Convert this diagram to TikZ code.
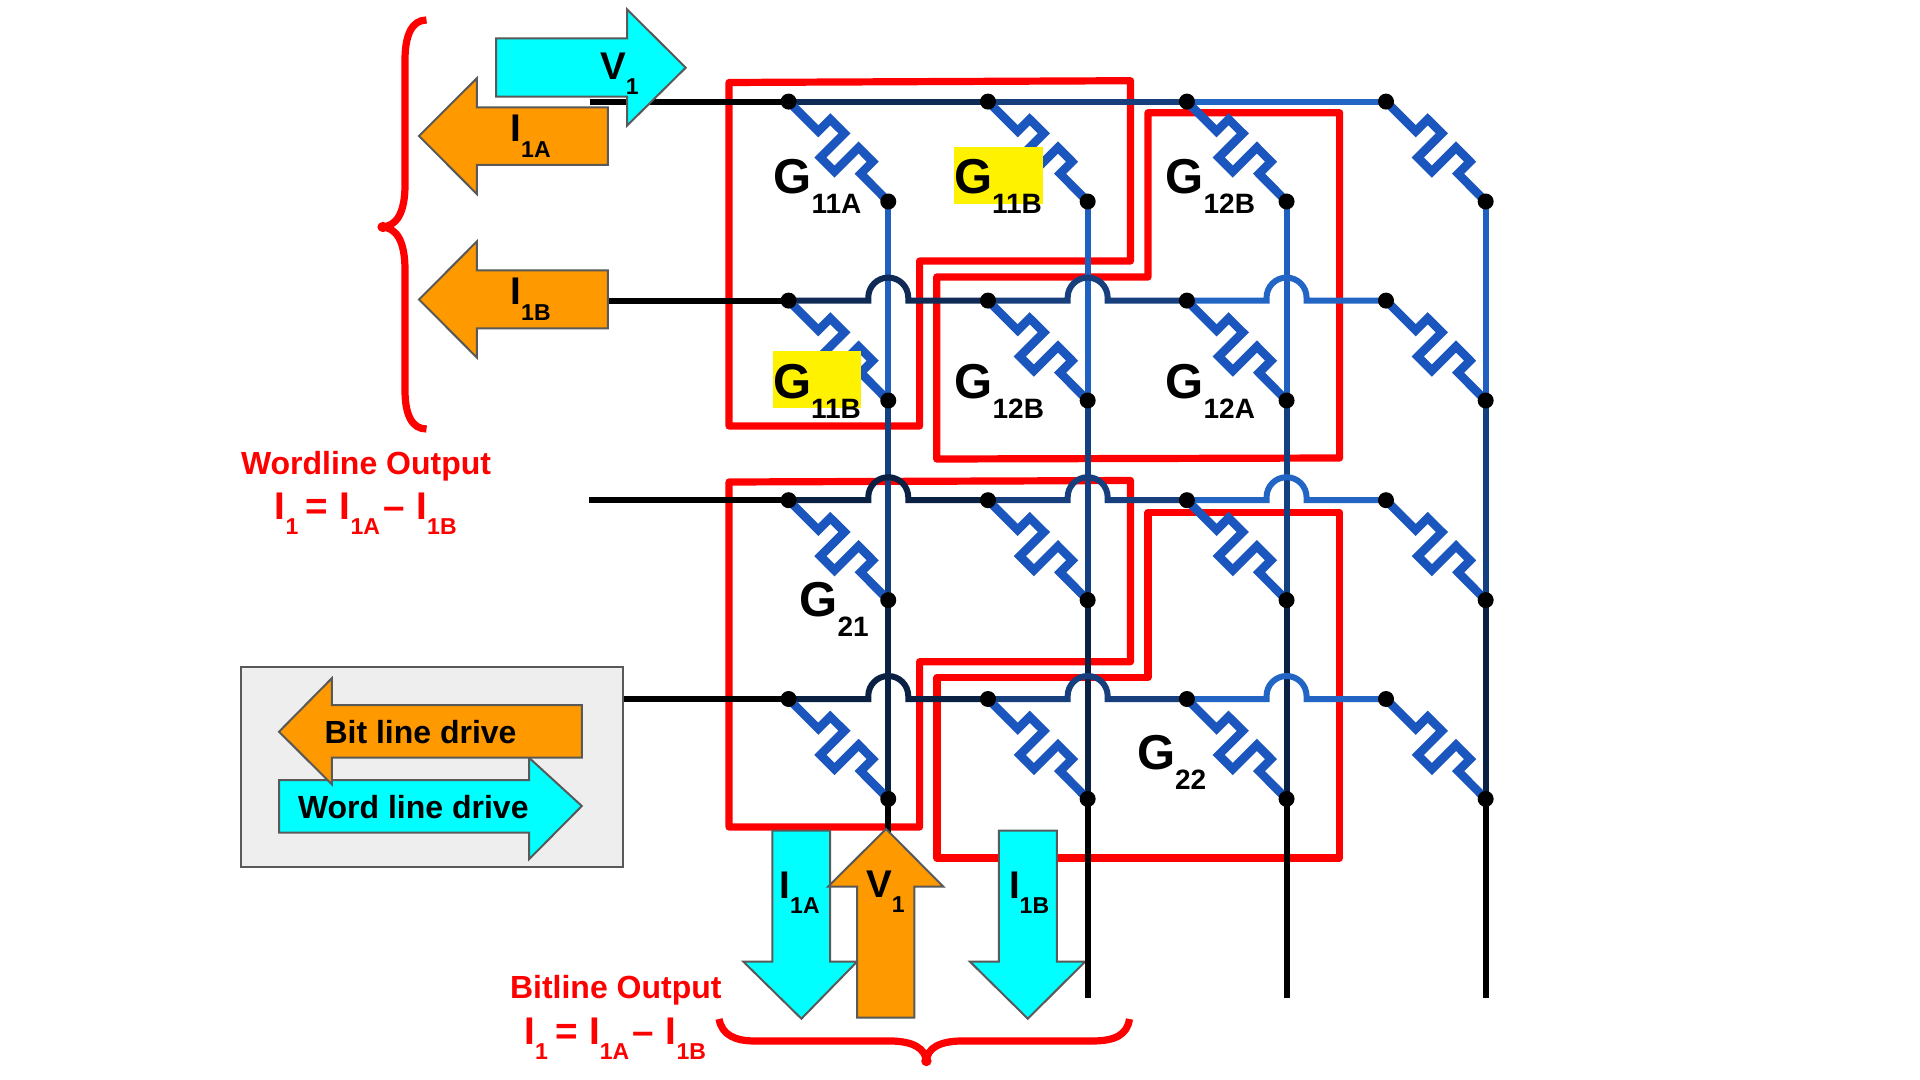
\documentclass[tikz,border=0pt]{standalone}
\usepackage{fontspec}
\setmainfont{Liberation Sans}
\definecolor{rBlue}{HTML}{1A56BD}
\definecolor{wA}{HTML}{0F2A55}
\definecolor{wB}{HTML}{173F7D}
\definecolor{wC}{HTML}{2265C4}
\definecolor{wD}{HTML}{0A2144}
\definecolor{bA}{HTML}{1F60C0}
\definecolor{bB}{HTML}{134080}
\definecolor{bC}{HTML}{0A2144}
\definecolor{arrOrange}{HTML}{FF9900}
\definecolor{arrCyan}{HTML}{00FFFF}
\definecolor{edgeGray}{HTML}{595959}
\definecolor{legendFill}{HTML}{EEEEEE}
\newcommand{\lab}[5]{{\fontsize{#1}{#1}\selectfont #3}\raisebox{-#5pt}{\fontsize{#2}{#2}\selectfont #4}}
\newcommand{\bigG}[2]{\lab{24.5}{14}{#1}{#2}{10}}
\newcommand{\smallI}[2]{\lab{19.3}{11.5}{#1}{#2}{7.7}}
\tikzset{
  redbox/.style={draw=red,line width=3.6pt,line join=round},
  redbrace/.style={draw=red,line width=3.6pt,line join=round},
  wire/.style={line width=3pt},
  zig/.style={draw=rBlue,line width=4.3pt,line join=miter},
  jdot/.style={circle,fill=black,inner sep=0pt,minimum size=8pt},
  orangearrow/.style={fill=arrOrange,draw=edgeGray,line width=1pt,line join=miter},
  cyanarrow/.style={fill=arrCyan,draw=edgeGray,line width=1pt,line join=miter},
  txt/.style={anchor=base west,inner sep=0pt,outer sep=0pt,font=\bfseries,text=black},
  rtxt/.style={txt,text=red},
  hilite/.style={fill=yellow,draw=none}
}
\begin{document}
\begin{tikzpicture}[x=0.5pt,y=-0.5pt]
\useasboundingbox (0,0) rectangle (1920,1080);
\fill[white] (0,0) rectangle (1920,1080);

% grid coordinates
\foreach \rw/\ya in {1/101.6,2/300.6,3/500.2,4/699}{
  \foreach \cl/\xa in {1/788.6,2/988,3/1186.9,4/1386}{
    \coordinate (d-\rw-\cl) at (\xa,\ya);
    \coordinate (b-\rw-\cl) at (\xa+99.65,\ya+99.9);
  }
}
\foreach \cl/\xa in {1/888.25,2/1087.65,3/1286.55,4/1485.65}{
  \coordinate (e-\cl) at (\xa,998);
}
\coordinate (ws-1) at (589.6,101.6);
\coordinate (ws-2) at (606,300.6);
\coordinate (ws-3) at (589,500.2);
\coordinate (ws-4) at (622,699);

% red outlines
\draw[redbox] (729,82.5) -- (1130.5,80.7) -- (1130.5,261) -- (919.6,261) -- (919.6,426) -- (729,426) -- cycle;
\draw[redbox] (1148,112.7) -- (1339.6,112.7) -- (1339.6,458) -- (936.7,459) -- (936.7,277) -- (1148,277) -- cycle;
\draw[redbox] (729,482) -- (1130.5,480.5) -- (1130.5,661.7) -- (919.6,661.7) -- (919.6,827) -- (729,827) -- cycle;
\draw[redbox] (1148,512.5) -- (1339.6,512.5) -- (1339.6,858) -- (937,858) -- (937,677.5) -- (1148,677.5) -- cycle;

% bit lines
\foreach \rw/\nx/\colr in {1/2/bA,2/3/bB,3/4/bC}{
  \foreach \cl in {1,2,3,4}{
    \draw[wire,draw=\colr] (b-\rw-\cl) -- (b-\nx-\cl);
  }
}
\foreach \cl in {1,2,3,4}{
  \draw[wire,draw=black] (b-4-\cl) -- (e-\cl);
}

% word lines
\foreach \rw in {1,2,3,4}{
  \draw[wire,draw=black] (ws-\rw) -- (d-\rw-1);
}
\draw[wire,draw=wA] (d-1-1) -- (d-1-2);
\draw[wire,draw=wB] (d-1-2) -- (d-1-3);
\draw[wire,draw=wC] (d-1-3) -- (d-1-4);
\foreach \rw/\ca/\cb/\cc in {2/wA/wB/wC,3/wD/wB/wC,4/wD/wB/wC}{
  \foreach \cl/\nx/\colr in {1/2/\ca,2/3/\cb,3/4/\cc}{
    \draw[wire,draw=\colr] (d-\rw-\cl) -- ++(79.65,0) -- ++(0,-3)
      arc[start angle=180,end angle=360,radius=20] -- ++(0,3) -- (d-\rw-\nx);
  }
}

% resistors
\foreach \rw in {1,2,3,4}{
  \foreach \cl in {1,2,3,4}{
    \draw[zig] (d-\rw-\cl) -- +(29.7,29.7) -- +(41.7,17.7) -- +(55.9,31.8) -- +(31.8,55.9)
      -- +(45.9,70) -- +(70,45.9) -- +(84.1,60.1) -- +(72.1,72.1) -- (b-\rw-\cl);
  }
}

% junction dots
\foreach \rw in {1,2,3,4}{
  \foreach \cl in {1,2,3,4}{
    \node[jdot] (dd-\rw-\cl) at (d-\rw-\cl) {};
    \node[jdot] (db-\rw-\cl) at (b-\rw-\cl) {};
  }
}

% highlights
\fill[hilite] (954,147.3) rectangle (1042.5,204.3);
\fill[hilite] (772.9,351) rectangle (861.4,408);

% conductance labels
\node[txt] (g11a) at (773.5,193.5) {\bigG{G}{11A}};
\node[txt] (g11b) at (954,193.5) {\bigG{G}{11B}};
\node[txt] (g12b) at (1165.5,193.5) {\bigG{G}{12B}};
\node[txt] (g11bb) at (773,398) {\bigG{G}{11B}};
\node[txt] (g12bb) at (954.5,398) {\bigG{G}{12B}};
\node[txt] (g12a) at (1165.5,398) {\bigG{G}{12A}};
\node[txt] (g21) at (799.5,616) {\bigG{G}{21}};
\node[txt] (g22) at (1137,769) {\bigG{G}{22}};

% left drive arrows
\filldraw[cyanarrow] (496,38.3) -- (627,38.3) -- (627,9.3) -- (685.7,67.7) -- (627,125.7) -- (627,96.7) -- (496,96.7) -- cycle;
\filldraw[orangearrow] (419,136) -- (476.8,78.3) -- (476.8,107.3) -- (607.9,107.3) -- (607.9,165) -- (476.8,165) -- (476.8,194) -- cycle;
\filldraw[orangearrow] (419,299.5) -- (476.8,241.5) -- (476.8,270.5) -- (607.9,270.5) -- (607.9,328.5) -- (476.8,328.5) -- (476.8,357.5) -- cycle;
\node[txt] (v1top) at (600,79.5) {\smallI{V}{1}};
\node[txt] (i1a) at (510.5,141.7) {\smallI{I}{1A}};
\node[txt] (i1b) at (510.5,305) {\smallI{I}{1B}};

% legend
\node[draw=edgeGray,line width=1pt,fill=legendFill,minimum width=191pt,minimum height=100pt,inner sep=0pt,outer sep=0pt,anchor=north west] (legend) at (241,667) {};
\filldraw[cyanarrow] (279,780) -- (529,780) -- (529,757.7) -- (581.8,806) -- (529,859.3) -- (529,832.7) -- (279,832.7) -- cycle;
\filldraw[orangearrow] (279,731.7) -- (331.8,678.3) -- (331.8,705) -- (581.8,705) -- (581.8,757.7) -- (331.8,757.7) -- (331.8,784.3) -- cycle;
\node[txt,font=\fontsize{16}{16}\selectfont\bfseries] (bitdrive) at (324.5,743.5) {Bit line drive};
\node[txt,font=\fontsize{16}{16}\selectfont\bfseries] (worddrive) at (298,818) {Word line drive};

% bottom arrows
\filldraw[cyanarrow] (772.4,830.7) -- (830,830.7) -- (830,961.7) -- (857,961.7) -- (801.4,1018.7) -- (743.4,961.7) -- (772.4,961.7) -- cycle;
\filldraw[cyanarrow] (998.8,830.7) -- (1056.8,830.7) -- (1056.8,961.7) -- (1085,961.7) -- (1027.8,1018.7) -- (970,961.7) -- (998.8,961.7) -- cycle;
\filldraw[orangearrow] (886,829) -- (943.4,886.7) -- (914.4,886.7) -- (914.4,1017.7) -- (857,1017.7) -- (857,886.7) -- (828,886.7) -- cycle;
\draw[wire,draw=black] (b-4-2) -- (e-2);
\node[txt] (i1ab) at (779.5,898.3) {\smallI{I}{1A}};
\node[txt] (v1b) at (866,897.3) {\smallI{V}{1}};
\node[txt] (i1bb) at (1009,898.3) {\smallI{I}{1B}};

% braces
\draw[redbrace] (426.5,20) .. controls (412,20) and (405,35) .. (405,60) -- (405,185)
  .. controls (405,212) and (397,227) .. (381,227) .. controls (397,227) and (405,242) .. (405,270)
  -- (405,390) .. controls (405,415) and (412,429) .. (426.5,429);
\fill[red] (383,227) circle (2.6pt);
\draw[redbrace] (719,1019) .. controls (722,1035) and (735,1041) .. (755,1041) -- (890,1041)
  .. controls (912,1041) and (926,1048) .. (926.4,1062) .. controls (926.4,1048) and (940,1041) .. (962,1041)
  -- (1092,1041) .. controls (1115,1041) and (1127,1035) .. (1129.5,1019);
\fill[red] (926.4,1061) circle (2.6pt);

% output labels
\node[rtxt,font=\fontsize{16}{16}\selectfont\bfseries] (wlo) at (241,474.5) {Wordline Output};
\node[rtxt,text=red] (f1) at (274.8,519.3) {\smallI{I}{1}};
\node[rtxt,font=\fontsize{19.3}{19.3}\selectfont\bfseries] (f2) at (305.5,519.3) {=};
\node[rtxt] (f3) at (339.8,519.3) {\smallI{I}{1A}};
\node[rtxt,font=\fontsize{19.3}{19.3}\selectfont\bfseries] (f4) at (383.3,519.3) {–};
\node[rtxt] (f5) at (416.5,519.3) {\smallI{I}{1B}};

\node[rtxt,font=\fontsize{16}{16}\selectfont\bfseries] (blo) at (510,998) {Bitline Output};
\node[rtxt] (h1) at (524.4,1044.3) {\smallI{I}{1}};
\node[rtxt,font=\fontsize{19.3}{19.3}\selectfont\bfseries] (h2) at (555,1044.3) {=};
\node[rtxt] (h3) at (589.1,1044.3) {\smallI{I}{1A}};
\node[rtxt,font=\fontsize{19.3}{19.3}\selectfont\bfseries] (h4) at (632.7,1044.3) {–};
\node[rtxt] (h5) at (665.9,1044.3) {\smallI{I}{1B}};
\end{tikzpicture}
\end{document}
